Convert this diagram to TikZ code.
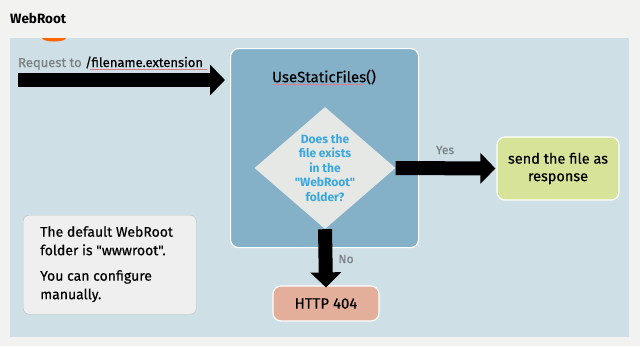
\documentclass[tikz,border=0pt]{standalone}
\usepackage{fontspec}
\setmainfont{Fira Sans}[Ligatures=TeXOff,UprightFeatures={FakeBold=0.4}]
\usetikzlibrary{shapes.geometric,arrows.meta}
\definecolor{bgc}{HTML}{F2F3F1}
\definecolor{panelc}{HTML}{CFDFE6}
\definecolor{boxc}{HTML}{84B0C8}
\definecolor{diac}{HTML}{E6E8E6}
\definecolor{diatxt}{HTML}{3AA6DE}
\definecolor{greenc}{HTML}{D8E39A}
\definecolor{redc}{HTML}{E4AF9A}
\definecolor{notec}{HTML}{EEEFEE}
\definecolor{graytxt}{HTML}{7A7F82}
\definecolor{squig}{HTML}{E07A8A}
\tikzset{
  fat/.style={line width=14pt,-{Triangle[width=30pt,length=15pt]},black},
  rbox/.style={rounded corners=8pt,draw=white,line width=1.2pt},
  dia/.style={diamond,fill=diac,draw=none,minimum width=141pt,minimum height=122pt,inner sep=0pt},
  lbl/.style={text=graytxt,font=\fontsize{12}{14}\selectfont},
}
\begin{document}
\begin{tikzpicture}[x=1pt,y=-1pt]
\fill[bgc] (0,0) rectangle (640,346);
\useasboundingbox (0,0) rectangle (640,346);
\node[anchor=west,inner sep=0pt,font=\fontsize{13.5}{14}\selectfont\bfseries] (title) at (10,18) {WebRoot};
\fill[panelc] (10,38) rectangle (629,337);
\fill[orange!80!red] (42,38) arc[start angle=180,end angle=0,x radius=12,y radius=3.5] -- cycle;
% main box
\node[rbox,fill=boxc,minimum width=188pt,minimum height=199pt,anchor=north west] (usf) at (230,48) {};
\node[font=\fontsize{15}{16}\selectfont] (usft) at (324,77) {UseStaticFiles()};
\draw[squig,line width=0.5pt] ([yshift=-1.5pt]usft.base west) ++(4,0) -- ([yshift=-1.5pt,xshift=-16pt]usft.base east);
% diamond
\node[dia] (d) at (325,168) {};
\node[align=center,text=diatxt,font=\fontsize{12}{14.5}\selectfont\bfseries] (dt) at (d) {Does the\\file exists\\in the\\"WebRoot"\\folder?};
% request
\node[anchor=base west,font=\fontsize{13}{15}\selectfont,inner sep=0pt] (req) at (18,67) {\textcolor{graytxt}{Request to} /filename.extension};
\draw[squig,line width=0.5pt] (90,69.5) -- (207,69.5);
\coordinate (rs) at (18,80);
\coordinate (re) at (225,80);
\draw[fat] (rs) -- (re);
% yes branch
\node[rbox,fill=greenc,minimum width=122pt,minimum height=63pt,align=center,font=\fontsize{14.5}{17.5}\selectfont] (send) at (558,168.5) {send the file as\\response};
\draw[fat] (d.east) -- ([xshift=-1pt]send.west);
\node[lbl] (yes) at (445,150) {Yes};
% no branch
\node[rbox,fill=redc,minimum width=106pt,minimum height=35pt,font=\fontsize{15}{15}\selectfont] (h404) at (326,303.5) {HTTP 404};
\draw[fat] (d.south) -- ([yshift=-2pt]h404.north);
\node[lbl] (no) at (346,259) {No};
% note
\node[rounded corners=6pt,draw=gray!50,fill=notec,minimum width=173pt,minimum height=99pt,anchor=north west] (note) at (23,215) {};
\node[anchor=north west,align=left,font=\fontsize{14}{18.5}\selectfont,inner sep=0pt] (nt) at (40,226) {The default WebRoot\\folder is "wwwroot".\\[7pt]You can configure\\manually.};
\end{tikzpicture}
\end{document}
